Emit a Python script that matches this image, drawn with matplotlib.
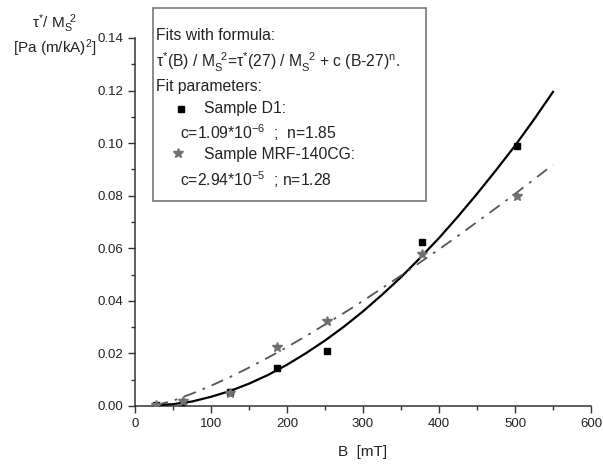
import matplotlib
matplotlib.use("Agg")
import matplotlib.pyplot as plt
from matplotlib.lines import Line2D
from matplotlib.patches import Rectangle
from matplotlib.ticker import MultipleLocator, FormatStrFormatter

plt.rcParams['font.family'] = ['Liberation Sans', 'DejaVu Sans']
plt.rcParams['mathtext.fontset'] = 'custom'
plt.rcParams['mathtext.rm'] = 'Liberation Sans'
plt.rcParams['mathtext.it'] = 'Liberation Sans:italic'
plt.rcParams['mathtext.bf'] = 'Liberation Sans:bold'

# measured points
b_d1 = [27, 63, 125, 187, 253, 378, 502]
y_d1 = [0.0005, 0.0015, 0.0055, 0.0145, 0.0210, 0.0625, 0.0990]
b_mrf = [27, 63, 125, 187, 253, 378, 502]
y_mrf = [0.0003, 0.0020, 0.0050, 0.0225, 0.0325, 0.0578, 0.0798]

# fit curves
b_fit = [27, 50, 75, 100, 125, 150, 175, 200, 225, 250, 275, 300, 325,
         350, 375, 400, 425, 450, 475, 500, 525, 550]
y_fit_d1 = [0.0003, 0.0007, 0.0017, 0.0035, 0.0057, 0.0085, 0.0118, 0.0157,
            0.0201, 0.0249, 0.0302, 0.0360, 0.0423, 0.0490, 0.0563, 0.0639,
            0.0721, 0.0807, 0.0897, 0.0990, 0.1090, 0.1195]
y_fit_mrf = [0.0003, 0.0020, 0.0047, 0.0077, 0.0110, 0.0146, 0.0184, 0.0224,
             0.0266, 0.0310, 0.0354, 0.0400, 0.0448, 0.0496, 0.0546, 0.0596,
             0.0647, 0.0700, 0.0753, 0.0807, 0.0862, 0.0918]

fig = plt.figure(figsize=(6.03, 4.65), dpi=100)
ax = fig.add_axes([0.2239, 0.1269, 0.7562, 0.7914])

ax.plot(b_fit, y_fit_d1, color='black', lw=1.6, zorder=3)
ax.plot(b_fit, y_fit_mrf, color='#555555', lw=1.3, zorder=3,
        dashes=(7, 4, 1.5, 4))
ax.plot(b_d1, y_d1, 's', color='black', ms=5, zorder=4)
ax.plot(b_mrf, y_mrf, '*', color='#707070', ms=7, zorder=4)

ax.set_xlim(0, 600)
ax.set_ylim(0, 0.14)
for s in ['top', 'right']:
    ax.spines[s].set_visible(False)
for s in ['left', 'bottom']:
    ax.spines[s].set_color('#333333')
    ax.spines[s].set_linewidth(1.1)
ax.xaxis.set_major_locator(MultipleLocator(100))
ax.xaxis.set_minor_locator(MultipleLocator(50))
ax.yaxis.set_major_locator(MultipleLocator(0.02))
ax.yaxis.set_minor_locator(MultipleLocator(0.01))
ax.yaxis.set_major_formatter(FormatStrFormatter('%.2f'))
ax.tick_params(which='major', direction='out', length=5, width=1.0,
               labelsize=9.5, color='#333333', labelcolor='#222222')
ax.tick_params(which='minor', direction='out', length=3, width=1.0,
               color='#333333')

fig.text(363 / 603, 1 - 452 / 465, 'B  [mT]', ha='center', va='center',
         fontsize=11, color='#222222')
fig.text(55 / 603, 1 - 24 / 465, r'τ$^{*}$/ M$_\mathrm{S}^{\ \ 2}$', ha='center',
         va='center', fontsize=11, color='#222222')
fig.text(55 / 603, 1 - 48 / 465, r'[Pa (m/kA)$^{2}$]', ha='center',
         va='center', fontsize=11, color='#222222')

# annotation box
x0, y0, x1, y1 = 153, 8, 426, 201
fig.patches.append(Rectangle((x0 / 603, 1 - y1 / 465), (x1 - x0) / 603,
                             (y1 - y0) / 465, transform=fig.transFigure,
                             fill=True, facecolor='white', edgecolor='#777777',
                             lw=1.2, zorder=5))
tk = dict(fontsize=11.3, color='#222222', va='center', ha='left', zorder=6)
fig.text(156 / 603, 1 - 36 / 465, 'Fits with formula:', **tk)
fig.text(156 / 603, 1 - 62 / 465,
         r'τ$^{*}$(B) / M$_\mathrm{S}^{\ \ 2}$=τ$^{*}$(27) / M$_\mathrm{S}^{\ \ 2}$ + c (B-27)$^\mathrm{n}$.',
         **tk)
fig.text(156 / 603, 1 - 87 / 465, 'Fit parameters:', **tk)
fig.text(204 / 603, 1 - 109 / 465, 'Sample D1:', **tk)
fig.text(180 / 603, 1 - 133 / 465, r'c=1.09*10$^{\mathrm{-6}}$  ;  n=1.85', **tk)
fig.text(204 / 603, 1 - 155 / 465, 'Sample MRF-140CG:', **tk)
fig.text(180 / 603, 1 - 180 / 465, r'c=2.94*10$^{\mathrm{-5}}$  ; n=1.28', **tk)
fig.lines.append(Line2D([181 / 603], [1 - 109 / 465], marker='s', color='black',
                        ms=5, transform=fig.transFigure, zorder=7))
fig.lines.append(Line2D([178 / 603], [1 - 153 / 465], marker='*', color='#707070',
                        ms=7, transform=fig.transFigure, zorder=7))

fig.savefig('out.png', dpi=100)
